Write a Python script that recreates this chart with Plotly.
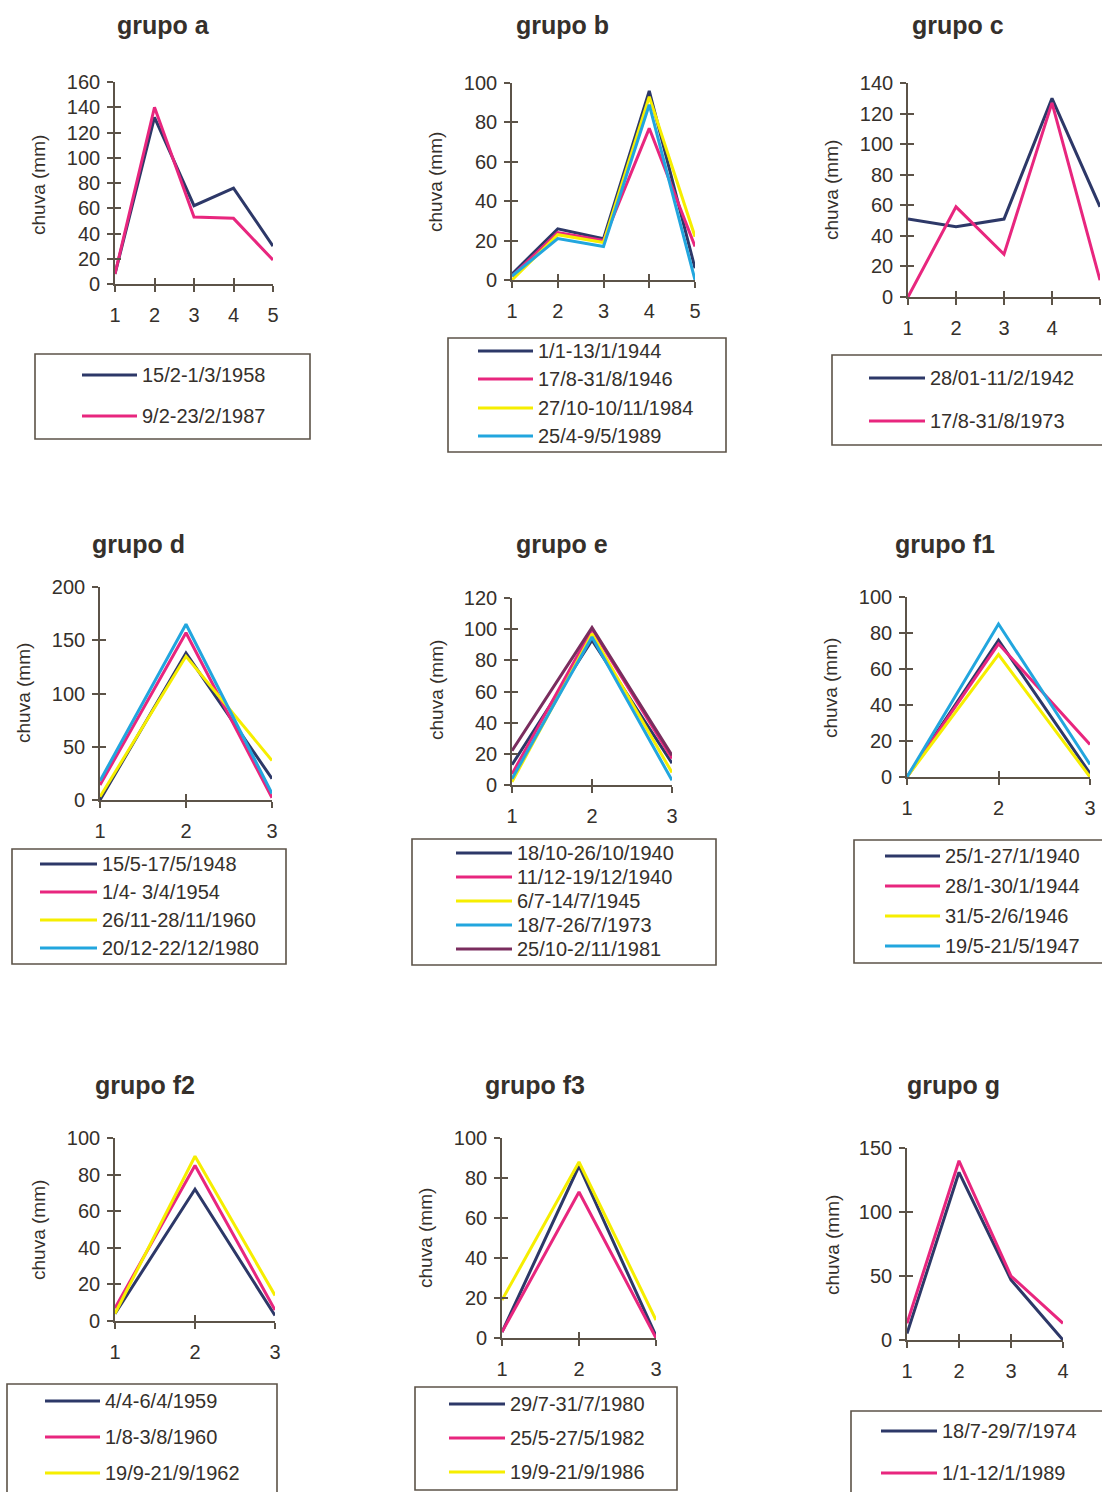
import plotly.graph_objects as go

W, H = 1102, 1492

# ---------------- data ----------------
a_x = [1, 2, 3, 4, 5]
a_names = ["15/2-1/3/1958", "9/2-23/2/1987"]
a_values = [[8, 132, 62, 76, 30], [8, 140, 53, 52, 19]]

b_x = [1, 2, 3, 4, 5]
b_names = ["1/1-13/1/1944", "17/8-31/8/1946", "27/10-10/11/1984", "25/4-9/5/1989"]
b_values = [[3, 26, 21, 96, 6], [2, 24, 20, 77, 17], [0, 23, 19, 93, 22], [2, 21, 17, 89, 0]]

c_x = [1, 2, 3, 4, 5]
c_names = ["28/01-11/2/1942", "17/8-31/8/1973"]
c_values = [[51, 46, 51, 130, 59], [0, 59, 28, 127, 11]]

d_x = [1, 2, 3]
d_names = ["15/5-17/5/1948", "1/4- 3/4/1954", "26/11-28/11/1960", "20/12-22/12/1980"]
d_values = [[0, 138, 20], [14, 157, 2], [3, 135, 37], [18, 165, 6]]

e_x = [1, 2, 3]
e_names = ["18/10-26/10/1940", "11/12-19/12/1940", "6/7-14/7/1945", "18/7-26/7/1973", "25/10-2/11/1981"]
e_values = [[13, 93, 14], [7, 100, 17], [2, 97, 8], [4, 95, 3], [22, 101, 19]]

f1_x = [1, 2, 3]
f1_names = ["25/1-27/1/1940", "28/1-30/1/1944", "31/5-2/6/1946", "19/5-21/5/1947"]
f1_values = [[0, 76, 2], [0, 74, 18], [0, 68, 0], [0, 85, 7]]

f2_x = [1, 2, 3]
f2_names = ["4/4-6/4/1959", "1/8-3/8/1960", "19/9-21/9/1962"]
f2_values = [[4, 72, 3], [7, 85, 6], [4, 90, 14]]

f3_x = [1, 2, 3]
f3_names = ["29/7-31/7/1980", "25/5-27/5/1982", "19/9-21/9/1986"]
f3_values = [[3, 86, 1], [3, 73, 0], [19, 88, 9]]

g_x = [1, 2, 3, 4]
g_names = ["18/7-29/7/1974", "1/1-12/1/1989"]
g_values = [[5, 131, 47, 0], [13, 140, 50, 13]]

y_title = "chuva (mm)"

# ---------------- styles ----------------
series_colors = ["#2d3868", "#e8267e", "#f6ee00", "#22a6de", "#7a2d5e"]
text_color = "#35302b"
axis_color = "#5c5348"
FONT = "Liberation Sans"

# panel placement (page pixels): plot=(x_first, x_last, y_zero, y_max)
panels = [
    dict(title="grupo a", x=a_x, names=a_names, values=a_values, ymax=160, dtick=20,
         plot=(115, 273, 284, 82), title_xy=(163, 25), ytitle_xy=(38, 185),
         box=(35, 354, 310, 439), sw=(82, 137), tx=140, rows=[375, 416]),
    dict(title="grupo b", x=b_x, names=b_names, values=b_values, ymax=100, dtick=20,
         plot=(512, 695, 280, 83), title_xy=(562, 25), ytitle_xy=(436, 182),
         box=(448, 338, 726, 452), sw=(478, 533), tx=536, rows=[351, 379, 408, 436]),
    dict(title="grupo c", x=c_x, names=c_names, values=c_values, ymax=140, dtick=20,
         plot=(908, 1100, 297, 83), title_xy=(958, 25), ytitle_xy=(832, 190),
         box=(832, 355, 1120, 445), sw=(869, 925), tx=928, rows=[378, 421]),
    dict(title="grupo d", x=d_x, names=d_names, values=d_values, ymax=200, dtick=50,
         plot=(100, 272, 800, 587), title_xy=(138, 544), ytitle_xy=(24, 693),
         box=(12, 849, 286, 964), sw=(40, 97), tx=100, rows=[864, 892, 920, 948]),
    dict(title="grupo e", x=e_x, names=e_names, values=e_values, ymax=120, dtick=20,
         plot=(512, 672, 785, 598), title_xy=(562, 544), ytitle_xy=(436, 690),
         box=(412, 839, 716, 965), sw=(456, 512), tx=515, rows=[853, 877, 901, 925, 949]),
    dict(title="grupo f1", x=f1_x, names=f1_names, values=f1_values, ymax=100, dtick=20,
         plot=(907, 1090, 777, 597), title_xy=(945, 544), ytitle_xy=(830, 688),
         box=(854, 840, 1120, 963), sw=(885, 940), tx=943, rows=[856, 886, 916, 946]),
    dict(title="grupo f2", x=f2_x, names=f2_names, values=f2_values, ymax=100, dtick=20,
         plot=(115, 275, 1321, 1138), title_xy=(145, 1085), ytitle_xy=(38, 1230),
         box=(7, 1384, 277, 1510), sw=(45, 100), tx=103, rows=[1401, 1437, 1473]),
    dict(title="grupo f3", x=f3_x, names=f3_names, values=f3_values, ymax=100, dtick=20,
         plot=(502, 656, 1338, 1138), title_xy=(535, 1085), ytitle_xy=(425, 1238),
         box=(415, 1387, 677, 1490), sw=(449, 505), tx=508, rows=[1404, 1438, 1472]),
    dict(title="grupo g", x=g_x, names=g_names, values=g_values, ymax=150, dtick=50,
         plot=(907, 1063, 1340, 1148), title_xy=(953, 1085), ytitle_xy=(832, 1245),
         box=(851, 1411, 1120, 1510), sw=(881, 937), tx=940, rows=[1431, 1473]),
]


def px(xp):
    return xp / W


def py(yp):
    return 1 - yp / H


fig = go.Figure()
layout = dict(
    width=W, height=H,
    margin=dict(l=0, r=0, t=0, b=0, autoexpand=False),
    paper_bgcolor="white", plot_bgcolor="rgba(0,0,0,0)",
    showlegend=False,
    font=dict(family=FONT, color=text_color),
)
shapes = []
annotations = []
N = len(panels)

for i, p in enumerate(panels, start=1):
    x0p, x1p, y0p, ytp = p["plot"]
    xdom = [px(x0p), min(px(x1p), 1.0)]
    ydom = [py(y0p), py(ytp)]
    xr = [p["x"][0], p["x"][-1]]
    yr = [0, p["ymax"]]
    j = i + N
    common = dict(showgrid=False, zeroline=False, fixedrange=True,
                  tickcolor=axis_color, tickwidth=1.6, ticklen=6)
    layout[f"xaxis{i}"] = dict(domain=xdom, range=xr, tickvals=p["x"], anchor=f"y{i}",
                               ticks="outside", showline=True, linecolor=axis_color, linewidth=1.6,
                               tickfont=dict(family=FONT, size=20, color=text_color),
                               ticklabelstandoff=6, **common)
    layout[f"yaxis{i}"] = dict(domain=ydom, range=yr, tick0=0, dtick=p["dtick"], anchor=f"x{i}",
                               ticks="outside", showline=True, linecolor=axis_color, linewidth=1.6,
                               tickfont=dict(family=FONT, size=20, color=text_color),
                               ticklabelstandoff=3, **common)
    # overlay axes giving the crossing half of each tick
    layout[f"xaxis{j}"] = dict(overlaying=f"x{i}", range=xr, tickvals=p["x"], anchor=f"y{j}",
                               ticks="inside", showticklabels=False, showline=False, **common)
    layout[f"yaxis{j}"] = dict(overlaying=f"y{i}", range=yr, tick0=0, dtick=p["dtick"], anchor=f"x{j}",
                               ticks="inside", showticklabels=False, showline=False, **common)
    fig.add_trace(go.Scatter(x=[], y=[], xaxis=f"x{j}", yaxis=f"y{j}", showlegend=False, hoverinfo="skip"))

    for k, (name, vals) in enumerate(zip(p["names"], p["values"])):
        fig.add_trace(go.Scatter(x=p["x"], y=vals, mode="lines", name=name,
                                 line=dict(color=series_colors[k], width=3),
                                 xaxis=f"x{i}", yaxis=f"y{i}", showlegend=False))

    # title
    tx_, ty_ = p["title_xy"]
    annotations.append(dict(text=p["title"], x=px(tx_), y=py(ty_), xref="paper", yref="paper",
                            xanchor="center", yanchor="middle", showarrow=False,
                            font=dict(family=FONT, size=25, color=text_color, weight="bold")))
    # y-axis title
    ax_, ay_ = p["ytitle_xy"]
    annotations.append(dict(text=y_title, x=px(ax_), y=py(ay_), xref="paper", yref="paper",
                            xanchor="center", yanchor="middle", showarrow=False, textangle=-90,
                            font=dict(family=FONT, size=19, color=text_color)))
    # legend box
    bx0, by0, bx1, by1 = p["box"]
    shapes.append(dict(type="rect", xref="paper", yref="paper",
                       x0=px(bx0), x1=px(bx1), y0=py(by1), y1=py(by0),
                       line=dict(color=axis_color, width=1.6), fillcolor="rgba(0,0,0,0)"))
    s0, s1 = p["sw"]
    for k, (name, ry) in enumerate(zip(p["names"], p["rows"])):
        shapes.append(dict(type="line", xref="paper", yref="paper",
                           x0=px(s0), x1=px(s1), y0=py(ry), y1=py(ry),
                           line=dict(color=series_colors[k], width=3)))
        annotations.append(dict(text=name, x=px(p["tx"]), y=py(ry), xref="paper", yref="paper",
                                xanchor="left", yanchor="middle", showarrow=False,
                                font=dict(family=FONT, size=20, color=text_color)))

layout["shapes"] = shapes
layout["annotations"] = annotations
fig.update_layout(**layout)
fig.write_html("out.html", config={"displayModeBar": False},
               post_script="document.body.style.margin='0';document.body.style.overflow='hidden';")
